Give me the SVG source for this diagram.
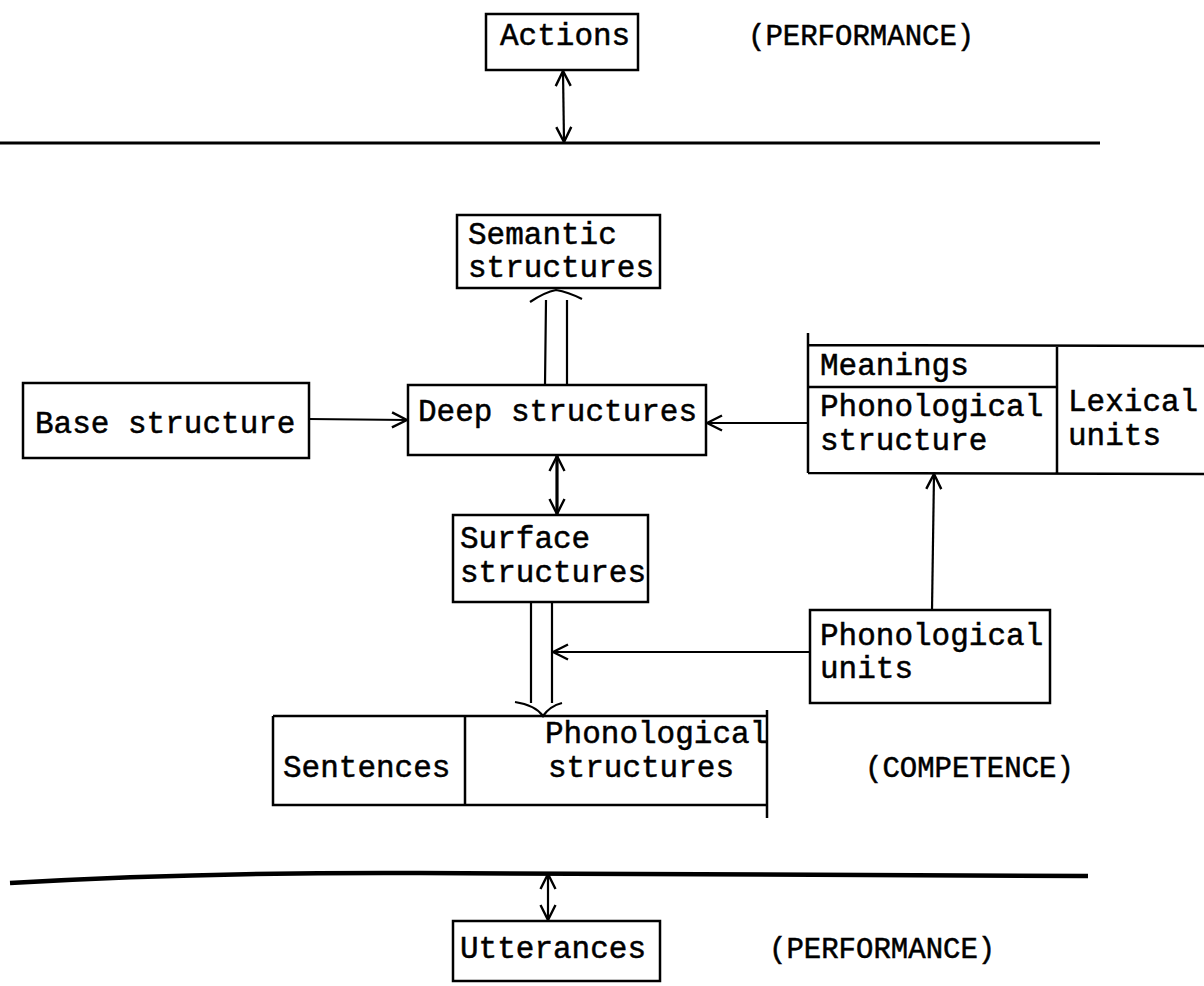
<svg xmlns="http://www.w3.org/2000/svg" width="1204" height="986" viewBox="0 0 1204 986">
<style>
  .box { fill: none; stroke: #000; stroke-width: 2.5; }
  .t { font-family: "Liberation Mono", "Courier New", monospace; font-size: 31px; fill: #000; stroke: #000; stroke-width: 0.5; }
  .lbl { font-family: "Liberation Mono", "Courier New", monospace; font-size: 29px; fill: #000; stroke: #000; stroke-width: 0.5; }
  .ln { fill: none; stroke: #000; stroke-width: 2.2; }
  .thick { fill: none; stroke: #000; stroke-width: 3.2; }
</style>
<defs>
  <marker id="ah" viewBox="0 0 12 12" refX="11" refY="6" markerWidth="18" markerHeight="18" markerUnits="userSpaceOnUse" orient="auto-start-reverse">
    <path d="M1,1 L11,6 L1,11" fill="none" stroke="#000" stroke-width="1.6"/>
  </marker>
</defs>
<rect width="1204" height="986" fill="#fff"/>

<g id="boundary-top">
  <path d="M0,143 L1100,143" fill="none" stroke="#000" stroke-width="3"/>
</g>
<g id="boundary-bottom">
  <path d="M10,883 Q200,872 420,873 L1088,876" fill="none" stroke="#000" stroke-width="4.5"/>
</g>

<g id="actions">
  <rect class="box" x="486" y="14" width="152" height="56"/>
  <text class="t" x="500" y="45">Actions</text>
</g>
<g id="performance-top">
  <text class="lbl" x="748" y="45">(PERFORMANCE)</text>
</g>

<g id="semantic">
  <rect class="box" x="457" y="215" width="203" height="73"/>
  <text class="t" x="468" y="244">Semantic</text>
  <text class="t" x="468" y="277">structures</text>
</g>

<g id="base">
  <rect class="box" x="23" y="383" width="286" height="75"/>
  <text class="t" x="35" y="433">Base structure</text>
</g>

<g id="deep">
  <rect class="box" x="408" y="385" width="298" height="70"/>
  <text class="t" x="418" y="421">Deep structures</text>
</g>

<g id="lexical">
  <path class="box" d="M808,333 L808,473 M808,345 L1204,346 M808,473 L1204,474 M808,387 L1057,387 M1057,345 L1057,473"/>
  <text class="t" x="820" y="375">Meanings</text>
  <text class="t" x="820" y="416">Phonological</text>
  <text class="t" x="820" y="450">structure</text>
  <text class="t" x="1068" y="411">Lexical</text>
  <text class="t" x="1068" y="445">units</text>
</g>

<g id="surface">
  <rect class="box" x="453" y="515" width="195" height="87"/>
  <text class="t" x="460" y="548">Surface</text>
  <text class="t" x="460" y="582">structures</text>
</g>

<g id="phon-units">
  <rect class="box" x="810" y="610" width="240" height="93"/>
  <text class="t" x="820" y="645">Phonological</text>
  <text class="t" x="820" y="678">units</text>
</g>

<g id="sentences">
  <path class="box" d="M273,716 L767,716 M273,716 L273,805 L767,805 M767,710 L767,818 M465,716 L465,805"/>
  <text class="t" x="283" y="777">Sentences</text>
  <text class="t" x="545" y="743">Phonological</text>
  <text class="t" x="548" y="777">structures</text>
</g>
<g id="competence">
  <text class="lbl" x="865" y="777">(COMPETENCE)</text>
</g>

<g id="utterances">
  <rect class="box" x="453" y="921" width="207" height="60"/>
  <text class="t" x="460" y="958">Utterances</text>
</g>
<g id="performance-bottom">
  <text class="lbl" x="769" y="958">(PERFORMANCE)</text>
</g>

<g id="connectors">
  <line class="ln" x1="563" y1="71" x2="564" y2="142" marker-start="url(#ah)" marker-end="url(#ah)"/>
  <line class="thick" x1="557" y1="456" x2="557" y2="514" marker-start="url(#ah)" marker-end="url(#ah)"/>
  <line class="ln" x1="548" y1="874" x2="548" y2="920" marker-start="url(#ah)" marker-end="url(#ah)"/>
  <line class="ln" x1="309" y1="419" x2="407" y2="420" marker-end="url(#ah)"/>
  <line class="ln" x1="808" y1="423" x2="707" y2="423" marker-end="url(#ah)"/>
  <line class="ln" x1="932" y1="610" x2="934" y2="474" marker-end="url(#ah)"/>
  <line class="ln" x1="810" y1="652" x2="553" y2="652" marker-end="url(#ah)"/>
  <path class="ln" d="M545,385 L546,300 M567,385 L567,300"/>
  <path class="ln" d="M530,302 Q545,292 556,290 Q568,292 582,299"/>
  <path class="ln" d="M531,603 L531,703 M552,603 L552,703"/>
  <path class="ln" d="M515,702 Q535,705 543,716 Q550,706 562,703"/>
</g>
</svg>
